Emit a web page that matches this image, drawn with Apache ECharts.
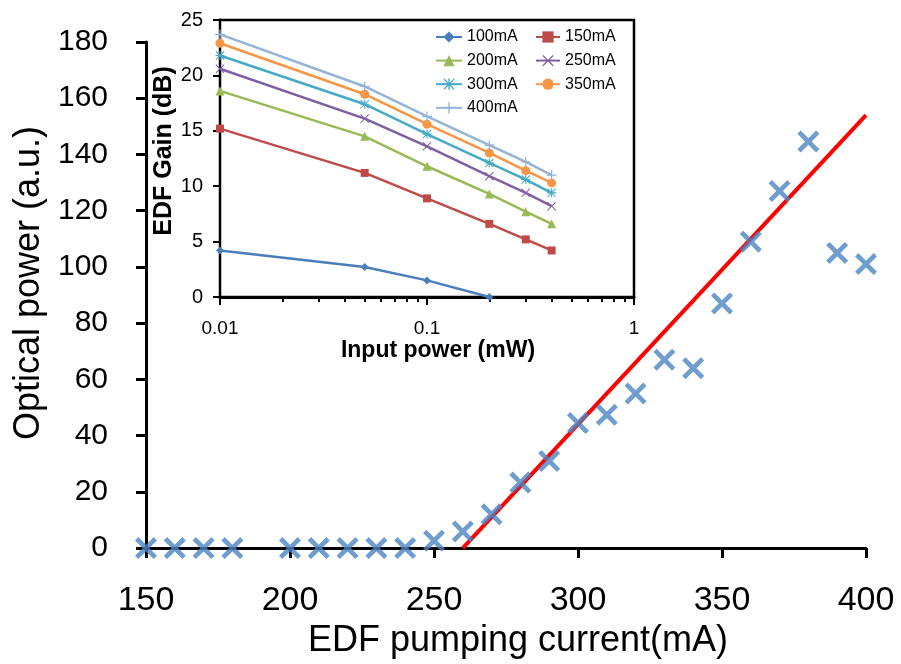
<!DOCTYPE html>
<html>
<head>
<meta charset="utf-8">
<script src="https://cdn.jsdelivr.net/npm/echarts@6/dist/echarts.min.js"></script>
<style>
html,body{margin:0;padding:0;background:#fff;}
#chart{width:901px;height:664px;}
</style>
</head>
<body>
<div id="chart"></div>
<script>
// Main chart data
const mainCurrent = [150,160,170,180,200,210,220,230,240,250,260,270,280,290,300,310,320,330,340,350,360,370,380,390,400];
const mainPower   = [0,0,0,0,0,0,0,0,0,2.6,5.9,12,23.3,31,44.5,47.4,55,67,64,87,109,127,144.6,105,101];
const fitCurrent  = [260,400];
const fitPower    = [0,154];
const mainXTicks  = [150,200,250,300,350,400];
const mainYTicks  = [0,20,40,60,80,100,120,140,160,180];

// Inset data
const inputPower = [0.01,0.05,0.1,0.2,0.3,0.4];
const seriesNames = ['100mA','150mA','200mA','250mA','300mA','350mA','400mA'];
const g100 = [4.2,2.7,1.5,0];
const g150 = [15.2,11.2,8.9,6.6,5.2,4.2];
const g200 = [18.6,14.5,11.8,9.3,7.7,6.6];
const g250 = [20.6,16.1,13.6,10.9,9.4,8.2];
const g300 = [21.8,17.4,14.7,12.1,10.6,9.4];
const g350 = [22.9,18.3,15.6,13.0,11.4,10.3];
const g400 = [23.7,19.0,16.3,13.7,12.2,11.0];

const FONT = "'Liberation Sans', Arial, sans-serif";
const crossSym = 'path://M0,1.5L1.5,0L5,3.5L8.5,0L10,1.5L6.5,5L10,8.5L8.5,10L5,6.5L1.5,10L0,8.5L3.5,5Z';
const thinX = 'path://M0,0.8L0.8,0L5,4.2L9.2,0L10,0.8L5.8,5L10,9.2L9.2,10L5,5.8L0.8,10L0,9.2L4.2,5Z';
const plusSym = 'path://M4.4,0H5.6V4.4H10V5.6H5.6V10H4.4V5.6H0V4.4H4.4Z';
const starSym = 'path://M0,0.8L0.8,0L4.4,3.6V0H5.6V3.6L9.2,0L10,0.8L6.4,4.4H10V5.6H6.4L10,9.2L9.2,10L5.6,6.4V10H4.4V6.4L0.8,10L0,9.2L3.6,5.6H0V4.4H3.6Z';

const gains = [g100,g150,g200,g250,g300,g350,g400];
const colors = ['#4a7ebb','#be4b48','#98b954','#7d60a0','#46aac5','#f79646','#95b3d7'];
const symbols = ['diamond','rect','triangle',thinX,starSym,'circle',plusSym];
const symSizes = [8,8,9,9,9,9,10];

function pairs(xs, ys){ return ys.map((y,i)=>[xs[i], y]); }

const insetSeries = gains.map((g,i)=>({
  name: seriesNames[i],
  type: 'line',
  xAxisIndex: 1, yAxisIndex: 1,
  data: pairs(inputPower, g),
  symbol: symbols[i],
  symbolSize: symSizes[i],
  showAllSymbol: true,
  lineStyle: {color: colors[i], width: 2.5},
  itemStyle: {color: colors[i]},
  z: 5
}));

const legendText = {fontFamily: FONT, fontSize: 16, color: '#000', lineHeight: 14};

const chart = echarts.init(document.getElementById('chart'), null, {renderer:'canvas'});
const option = {
  backgroundColor: '#fff',
  animation: false,
  grid: [
    {left:146, right:35, top:42, bottom:113, containLabel:false},
    {left:220, top:20, width:414, height:277, show:true, backgroundColor:'#fff', borderColor:'#000', borderWidth:2.5, z:3}
  ],
  legend: [
    {
      data: ['100mA','200mA','300mA','400mA'],
      orient: 'vertical', left: 430, top: 24,
      itemWidth: 26, itemHeight: 14, itemGap: 7.6,
      textStyle: legendText,
      z: 10
    },
    {
      data: ['150mA','250mA','350mA'],
      orient: 'vertical', left: 530, top: 24,
      itemWidth: 24, itemHeight: 14, itemGap: 7.6,
      textStyle: legendText,
      z: 10
    }
  ],
  xAxis: [
    {
      gridIndex: 0, type: 'value', min: 150, max: 400, interval: 50,
      name: 'EDF pumping current(mA)', nameLocation: 'middle', nameGap: 68,
      nameTextStyle: {fontFamily: FONT, fontSize: 36, color: '#000', padding: [0,0,0,24]},
      axisLine: {lineStyle: {color: '#000', width: 3}},
      axisTick: {show: true, inside: false, length: 10, lineStyle: {color: '#000', width: 3}},
      axisLabel: {fontFamily: FONT, fontSize: 34, color: '#000', margin: 36},
      splitLine: {show: false}
    },
    {
      gridIndex: 1, type: 'log', logBase: 10, min: 0.01, max: 1,
      name: 'Input power (mW)', nameLocation: 'middle', nameGap: 37,
      nameTextStyle: {fontFamily: FONT, fontSize: 23, fontWeight: 'bold', color: '#000', padding: [0,0,0,22]},
      axisLine: {lineStyle: {color: '#000', width: 3}},
      axisTick: {show: true, inside: false, length: 8, lineStyle: {color: '#000', width: 2}},
      minorTick: {show: true, splitNumber: 9, length: 5, lineStyle: {color: '#000', width: 2}},
      axisLabel: {fontFamily: FONT, fontSize: 19, color: '#000', margin: 22},
      splitLine: {show: false},
      minorSplitLine: {show: false}
    }
  ],
  yAxis: [
    {
      gridIndex: 0, type: 'value', min: 0, max: 180, interval: 20,
      name: 'Optical power (a.u.)', nameLocation: 'middle', nameGap: 92,
      nameTextStyle: {fontFamily: FONT, fontSize: 36, color: '#000', padding: [0,0,0,24]},
      axisLine: {show: true, lineStyle: {color: '#000', width: 3}},
      axisTick: {show: true, inside: false, length: 10, lineStyle: {color: '#000', width: 3}},
      axisLabel: {fontFamily: FONT, fontSize: 30, color: '#000', margin: 38},
      splitLine: {show: false}
    },
    {
      gridIndex: 1, type: 'value', min: 0, max: 25, interval: 5,
      name: 'EDF Gain (dB)', nameLocation: 'middle', nameGap: 40,
      nameTextStyle: {fontFamily: FONT, fontSize: 25, fontWeight: 'bold', color: '#000', padding: [0,0,0,15]},
      axisLine: {show: true, lineStyle: {color: '#000', width: 3}},
      axisTick: {show: true, inside: false, length: 7, lineStyle: {color: '#000', width: 2}},
      axisLabel: {fontFamily: FONT, fontSize: 20, color: '#000', margin: 17},
      splitLine: {show: false}
    }
  ],
  series: [
    {
      name: 'fit', type: 'line', xAxisIndex: 0, yAxisIndex: 0,
      data: pairs(fitCurrent, fitPower), symbol: 'none',
      lineStyle: {color: '#ff0000', width: 4}, z: 2
    },
    {
      name: 'measured', type: 'scatter', xAxisIndex: 0, yAxisIndex: 0,
      data: pairs(mainCurrent, mainPower), symbol: crossSym, symbolSize: 22,
      itemStyle: {color: '#4a84c2'}, clip: false, z: 3
    }
  ].concat(insetSeries)
};
chart.setOption(option);
</script>
</body>
</html>
